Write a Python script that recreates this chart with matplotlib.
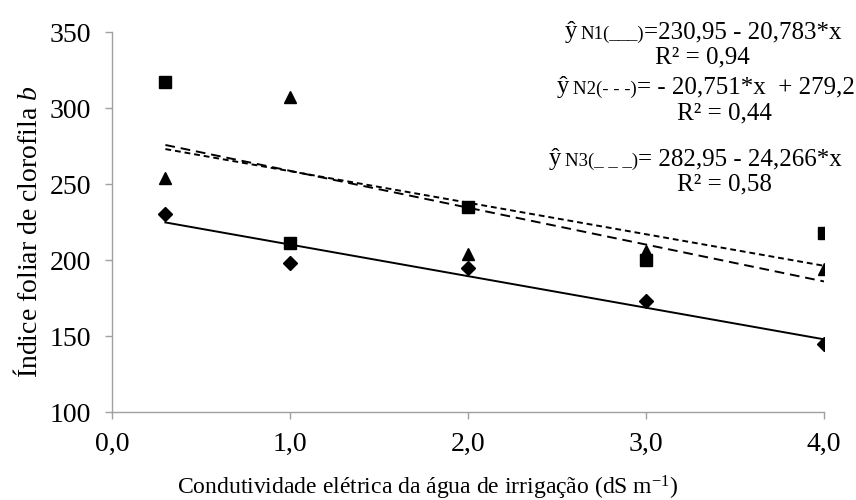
import numpy as np
import matplotlib
matplotlib.use('Agg')
import matplotlib.pyplot as plt

plt.rcParams['font.family'] = ['Liberation Serif', 'DejaVu Serif']
plt.rcParams['mathtext.fontset'] = 'custom'
plt.rcParams['mathtext.rm'] = 'Liberation Serif'
plt.rcParams['mathtext.it'] = 'Liberation Serif:italic'

# dados
ce = [0.3, 1.0, 2.0, 3.0, 4.0]
n1 = [230, 198, 195, 173, 145]
n2 = [317, 211, 235, 200, 218]
n3 = [254, 307, 204, 206, 194]

# coeficientes das regressões (a + b*x)
coef_n1 = (230.95, -20.783)
coef_n2 = (279.2, -20.751)
coef_n3 = (282.95, -24.266)

cinza = '#a0a0a0'

fig = plt.figure(figsize=(8.56, 5.0), dpi=100)
ax = fig.add_axes([112/856, 1-412/500, (824-112)/856, (412-32)/500])

xr = np.array([ce[0], ce[-1]])
ax.plot(xr, coef_n1[0] + coef_n1[1]*xr, color='black', lw=1.4, zorder=2)
ax.plot(xr, coef_n2[0] + coef_n2[1]*xr, color='black', lw=1.4,
        dashes=(3, 2), zorder=2)
ax.plot(xr, coef_n3[0] + coef_n3[1]*xr, color='black', lw=1.4,
        dashes=(5, 3), zorder=2)

ax.plot(ce, n1, 'D', color='black', ms=7, zorder=3)
ax.plot(ce, n3, '^', color='black', ms=9, zorder=3)
ax.plot(ce, n2, 's', color='black', ms=9, zorder=4)

ax.set_xlim(0, 4)
ax.set_ylim(100, 350)
ax.set_xticks([0, 1, 2, 3, 4])
ax.set_xticklabels(['0,0', '1,0', '2,0', '3,0', '4,0'])
ax.set_yticks([100, 150, 200, 250, 300, 350])

for s in ['top', 'right']:
    ax.spines[s].set_visible(False)
for s in ['left', 'bottom']:
    ax.spines[s].set_color(cinza)
    ax.spines[s].set_linewidth(1.0)
ax.tick_params(colors=cinza, labelcolor='black', labelsize=20,
               length=5, width=1.0)
ax.tick_params(axis='y', pad=10)
ax.tick_params(axis='x', pad=9)

fig.text(0.5, 1-494/500,
         'Condutividade elétrica da água de irrigação (dS m$^{\\mathregular{-1}}$)',
         ha='center', va='baseline', fontsize=17)
fig.text(29/856, 1-232/500, 'Índice foliar de clorofila $\\it{b}$',
         ha='center', va='center', rotation=90, fontsize=20)

# equações
eqs = [('N1(___)', '=230,95 - 20,783*x', 'R² = 0,94', 842, 38, 702, 63),
       ('N2(- - -)', '= - 20,751*x  + 279,2', 'R² = 0,44', 855, 93, 724, 119),
       ('N3(_ _ _)', '= 282,95 - 24,266*x', 'R² = 0,58', 842, 165, 724, 190)]
renderer = fig.canvas.get_renderer()
inv = fig.transFigure.inverted()
for sub, main, r2, xe, yb, xr2, yr2 in eqs:
    y = 1 - yb/500
    t = fig.text(xe/856, y, main, ha='right', va='baseline', fontsize=18)
    x0 = inv.transform(t.get_window_extent(renderer).p0)[0]
    t2 = fig.text(x0, y - 1/500, sub, ha='right', va='baseline', fontsize=13.5)
    x1 = inv.transform(t2.get_window_extent(renderer).p0)[0]
    fig.text(x1 - 4/856, y, 'ŷ', ha='right', va='baseline', fontsize=18)
    fig.text(xr2/856, 1-yr2/500, r2, ha='center', va='baseline', fontsize=18)

fig.savefig('out.png', dpi=100)
